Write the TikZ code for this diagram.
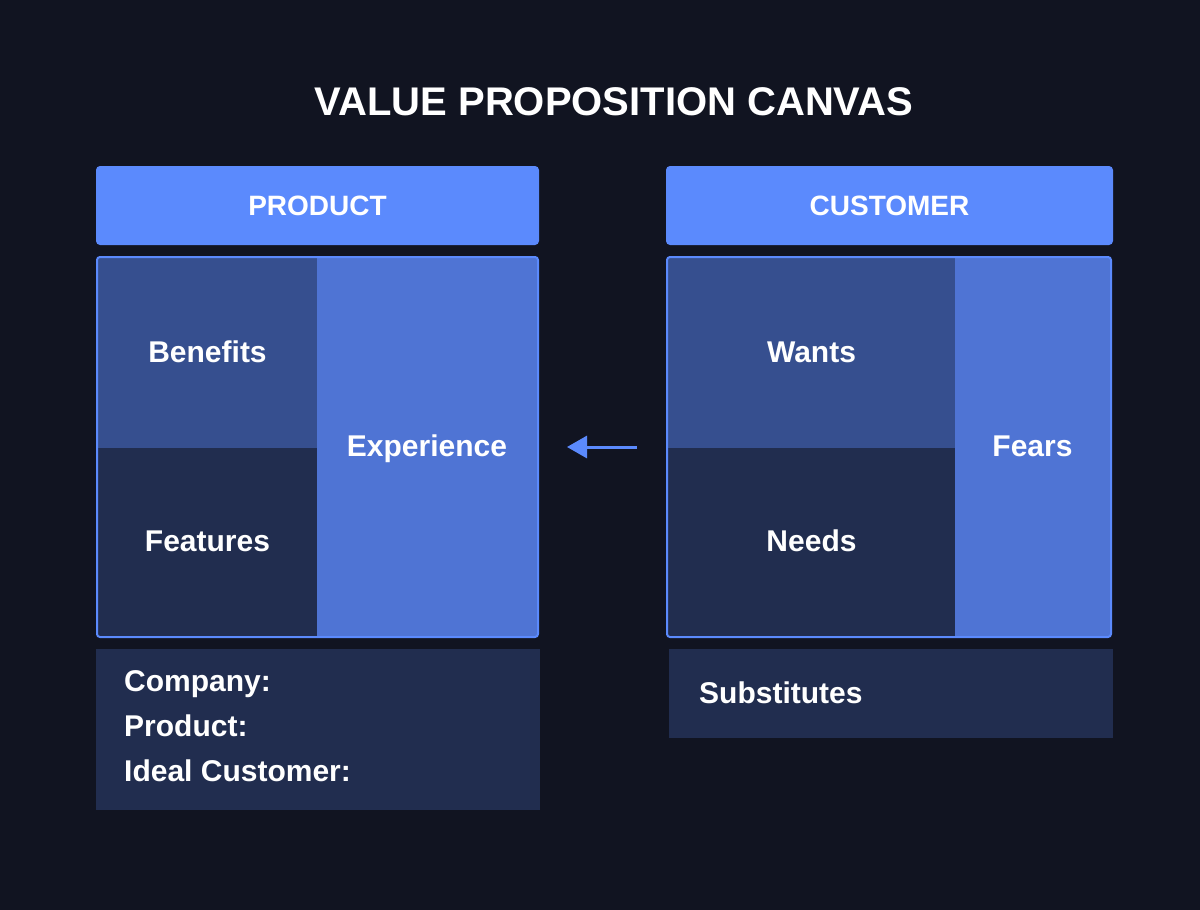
\documentclass[tikz,border=0pt]{standalone}
\usepackage{fontspec}
\setmainfont{Liberation Sans}
\usetikzlibrary{arrows.meta}
\definecolor{bgnavy}{HTML}{111421}
\definecolor{headblue}{HTML}{5B8AFD}
\definecolor{midblue}{HTML}{364F8F}
\definecolor{deepblue}{HTML}{212D4F}
\definecolor{softblue}{HTML}{4F74D4}
\tikzset{
  cell/.style={inner sep=0pt, text=white, text height=21.5pt, text depth=3pt,
    font=\bfseries\fontsize{30}{36}\selectfont},
  headbox/.style={cell, fill=headblue, rounded corners=4pt, minimum height=79pt,
    text height=20pt, text depth=0pt, font=\bfseries\fontsize{28}{34}\selectfont},
  frame/.style={draw=headblue, line width=2pt, rounded corners=3pt, inner sep=0pt},
  infotext/.style={anchor=base west, inner sep=0pt, text=white,
    font=\bfseries\fontsize{30}{36}\selectfont},
  titletext/.style={inner sep=0pt, text=white, text height=28.5pt, text depth=0pt,
    font=\bfseries\fontsize{40}{48}\selectfont}
}
\begin{document}
\begin{tikzpicture}[x=1pt,y=-1pt,
% one arrow tip for the connector
>={Triangle[length=20pt,width=22pt]}]

\fill[bgnavy] (0,0) rectangle (1200,910);
\useasboundingbox (0,0) rectangle (1200,910);

\pgfmathsetmacro\py{447}
\pgfmathsetmacro\ty{353}
\pgfmathsetmacro\by{542}

\node[titletext] (title) at (614,101) {VALUE PROPOSITION CANVAS};

% headers
\node[headbox, minimum width=443pt] (phead) at (317.5,205.5) {PRODUCT};
\node[headbox, minimum width=447pt] (chead) at (889.5,205.5) {CUSTOMER};

% product side
\node[cell, fill=midblue, minimum width=219pt, minimum height=190pt] (benefits) at (207.5,\ty) {Benefits};
\node[cell, fill=deepblue, minimum width=219pt, minimum height=188pt] (features) at (207.5,\by) {Features};
\node[cell, fill=softblue, minimum width=220pt, minimum height=378pt] (experience) at (427,\py) {Experience};
\node[frame, minimum width=441pt, minimum height=380pt] (pbody) at (317.5,\py) {};

% customer side
\node[cell, fill=midblue, minimum width=287pt, minimum height=190pt] (wants) at (811.5,\ty) {Wants};
\node[cell, fill=deepblue, minimum width=287pt, minimum height=188pt] (needs) at (811.5,\by) {Needs};
\node[cell, fill=softblue, minimum width=155pt, minimum height=378pt] (fears) at (1032.5,\py) {Fears};
\node[frame, minimum width=444pt, minimum height=380pt] (cbody) at (889,\py) {};

% bottom boxes
\node[fill=deepblue, inner sep=0pt, minimum width=444pt, minimum height=161pt] (info) at (318,729.5) {};
\foreach \txt [count=\i] in {Company:, Product:, Ideal Customer:} {
  \node[infotext] (info\i) at (124,{691+45*(\i-1)}) {\txt};
}
\node[fill=deepblue, inner sep=0pt, minimum width=444pt, minimum height=89pt] (subst) at (891,693.5) {};
\node[infotext] (substtext) at (699,703) {Substitutes};

% connector
\draw[->, headblue, line width=3pt, shorten <=29pt, shorten >=28pt] (cbody.west) -- (pbody.east);
\end{tikzpicture}
\end{document}
